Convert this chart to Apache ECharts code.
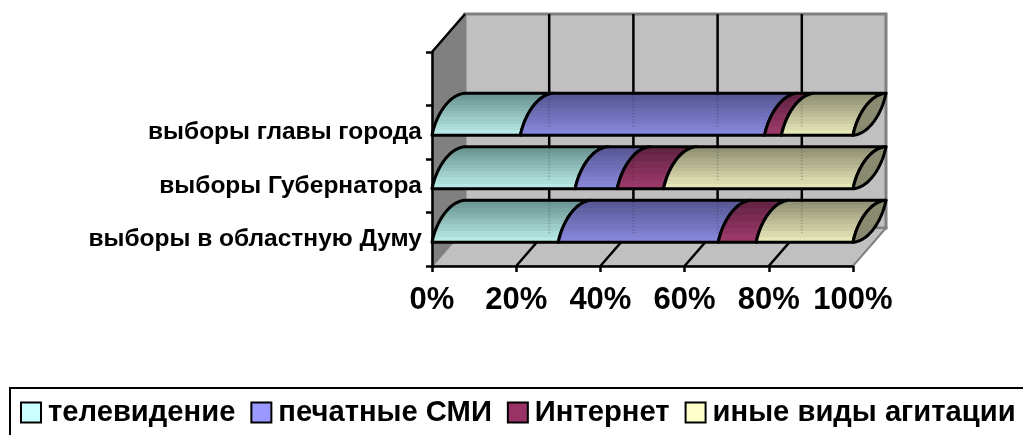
<!DOCTYPE html>
<html>
<head>
<meta charset="utf-8">
<style>
html,body{margin:0;padding:0;background:#fff;overflow:hidden}
#chart{width:1023px;height:435px}
</style>
<script src="https://cdn.jsdelivr.net/npm/echarts@6/dist/echarts.min.js"></script>
</head>
<body>
<div id="chart"></div>
<script>
var categories = ['выборы в областную Думу', 'выборы Губернатора', 'выборы главы города', '']
var seriesNames = ['телевидение', 'печатные СМИ', 'Интернет', 'иные виды агитации']
var tvValues = [30, 34, 21]
var printValues = [38, 10, 58]
var internetValues = [9, 11, 4]
var otherValues = [23, 45, 17]
var xTicks = [0, 20, 40, 60, 80, 100]

var legendColors = ['#CCFFFF', '#9999FF', '#993366', '#FFFFCC']
var topColors = ['#5f8a88', '#50508c', '#5a1e3c', '#86866c']
var bottomColors = ['#bdf0ec', '#8a8ae0', '#a03a6c', '#ececbc']

var fontName = '"Liberation Sans", Arial, sans-serif'
var depthX = 33      // сдвиг задней плоскости
var depthY = -38
var barTop = -42     // высота цилиндра, от нижней точки
var myChart = echarts.init(document.getElementById('chart'))

// дуга сечения цилиндра от (x, yb) до (x + depthX, yb + barTop)
function arc(x, yb, side) {
    var pts = []
    var yt = yb + barTop
    var p0 = [x, yb], p3 = [x + depthX, yt]
    var p1 = side > 0 ? [x + 4, yb - 20] : [x + 16, yb - 1]
    var p2 = side > 0 ? [x + 17, yt + 1] : [x + depthX - 4, yt + 20]
    for (var i = 0; i <= 20; i++) {
        var t = i / 20, u = 1 - t
        pts.push([
            u*u*u*p0[0] + 3*u*u*t*p1[0] + 3*u*t*t*p2[0] + t*t*t*p3[0],
            u*u*u*p0[1] + 3*u*u*t*p1[1] + 3*u*t*t*p2[1] + t*t*t*p3[1]
        ])
    }
    return pts
}

// полосатый градиент, как в исходной картинке
function bandFill(idx) {
    var stops = [], n = 14
    for (var i = 0; i < n; i++) {
        var col = echarts.color.lerp((i + 0.5) / n, [topColors[idx], bottomColors[idx]])
        col = echarts.color.lift(col, i % 2 ? 0.02 : -0.02)
        stops.push({ offset: i / n, color: col })
        stops.push({ offset: (i + 1) / n, color: col })
    }
    return new echarts.graphic.LinearGradient(0, 0, 0, 1, stops)
}

function stack(idx) {
    var all = [tvValues, printValues, internetValues, otherValues]
    return categories.slice(0, 3).map(function (c, k) {
        var start = 0
        for (var i = 0; i < idx; i++) start += all[i][k]
        return [start, k, start + all[idx][k]]
    })
}

function barSeries(idx) {
    return {
        type: 'custom',
        name: seriesNames[idx],
        z: 5 + idx,
        clip: false,
        silent: true,
        encode: { x: [0, 2], y: 1 },
        itemStyle: { color: legendColors[idx] },
        data: stack(idx),
        renderItem: function (params, api) {
            var c = api.coord([api.value(0), api.value(1)])
            var e = api.coord([api.value(2), api.value(1)])
            var yb = c[1] + 3
            var left = arc(c[0], yb, 1)
            var right = arc(e[0], yb, 1).reverse()
            var kids = [{
                type: 'polygon',
                shape: { points: left.concat(right) },
                style: { fill: bandFill(idx), stroke: '#000', lineWidth: 3, lineJoin: 'round' }
            }]
            if (idx === 3) {
                kids.push({
                    type: 'polygon',
                    shape: { points: arc(e[0], yb, 1).concat(arc(e[0], yb, -1).reverse()) },
                    style: { fill: '#8a8a70', stroke: '#000', lineWidth: 3, lineJoin: 'round' }
                })
                // сетка чуть просвечивает сквозь цилиндры
                xTicks.slice(1, 5).forEach(function (v) {
                    var x = api.coord([v, 0])[0] + depthX
                    kids.push({
                        type: 'line',
                        shape: { x1: x, y1: yb + barTop + 2, x2: x, y2: yb - 8 },
                        style: { stroke: 'rgba(0,0,0,0.22)', lineWidth: 2, lineDash: [1, 2] }
                    })
                })
            }
            return { type: 'group', children: kids }
        }
    }
}

var wallSeries = {
    type: 'custom',
    z: 1,
    clip: false,
    silent: true,
    data: [[0, 0]],
    renderItem: function (params, api) {
        var band = api.size([0, 1])[1]
        var first = api.coord([0, 0]), last = api.coord([0, categories.length - 1])
        var yBottom = first[1] + band / 2, yTop = last[1] - band / 2
        var xL = first[0], xR = api.coord([100, 0])[0]
        var kids = [
            { type: 'polygon', shape: { points: [[xL + depthX, yTop + depthY], [xR + depthX, yTop + depthY], [xR + depthX, yBottom + depthY], [xL + depthX, yBottom + depthY]] },
              style: { fill: '#c0c0c0', stroke: '#808080', lineWidth: 3 } },
            { type: 'polygon', shape: { points: [[xL, yBottom], [xR, yBottom], [xR + depthX, yBottom + depthY], [xL + depthX, yBottom + depthY]] },
              style: { fill: '#c0c0c0', stroke: '#808080', lineWidth: 2 } },
            { type: 'polygon', shape: { points: [[xL, yTop], [xL + depthX, yTop + depthY], [xL + depthX, yBottom + depthY], [xL, yBottom]] },
              style: { fill: '#808080', stroke: '#808080', lineWidth: 1 } },
            { type: 'line', shape: { x1: xL, y1: yTop, x2: xL + depthX, y2: yTop + depthY },
              style: { stroke: '#000', lineWidth: 2.5 } }
        ]
        xTicks.slice(1, 5).forEach(function (v) {
            var x = api.coord([v, 0])[0]
            kids.push({ type: 'polyline', shape: { points: [[x, yBottom], [x + depthX, yBottom + depthY], [x + depthX, yTop + depthY]] },
                style: { fill: null, stroke: '#000', lineWidth: 2.5 } })
        })
        return { type: 'group', children: kids }
    }
}

var option = {
    animation: false,
    backgroundColor: '#fff',
    grid: { left: 432, top: 52, width: 421, height: 214 },
    xAxis: {
        type: 'value', min: 0, max: 100, interval: 20, z: 3,
        splitLine: { show: false },
        axisLine: { show: true, lineStyle: { color: '#000', width: 2.5 } },
        axisTick: { show: true, length: 6, lineStyle: { color: '#000', width: 2.5 } },
        axisLabel: { formatter: '{value}%', margin: 19, color: '#000', fontFamily: fontName, fontWeight: 'bold', fontSize: 31 }
    },
    yAxis: {
        type: 'category', data: categories, z: 3,
        axisLine: { show: true, lineStyle: { color: '#000', width: 2.5 } },
        axisTick: { show: true, length: 6, alignWithLabel: false, lineStyle: { color: '#000', width: 2.5 } },
        axisLabel: { interval: 0, margin: 10, color: '#000', fontFamily: fontName, fontWeight: 'bold', fontSize: 24.5 }
    },
    legend: {
        data: seriesNames,
        left: 10, top: 388, width: 1200,
        padding: [10, 80, 40, 10],
        borderColor: '#000', borderWidth: 2,
        icon: 'rect',
        itemWidth: 20, itemHeight: 20, itemGap: 15,
        itemStyle: { borderColor: '#000', borderWidth: 2 },
        textStyle: { color: '#000', fontFamily: fontName, fontWeight: 'bold', fontSize: 29.2, padding: [0, 0, 0, 2] }
    },
    series: [wallSeries, barSeries(0), barSeries(1), barSeries(2), barSeries(3)]
}

myChart.setOption(option)
</script>
</body>
</html>
